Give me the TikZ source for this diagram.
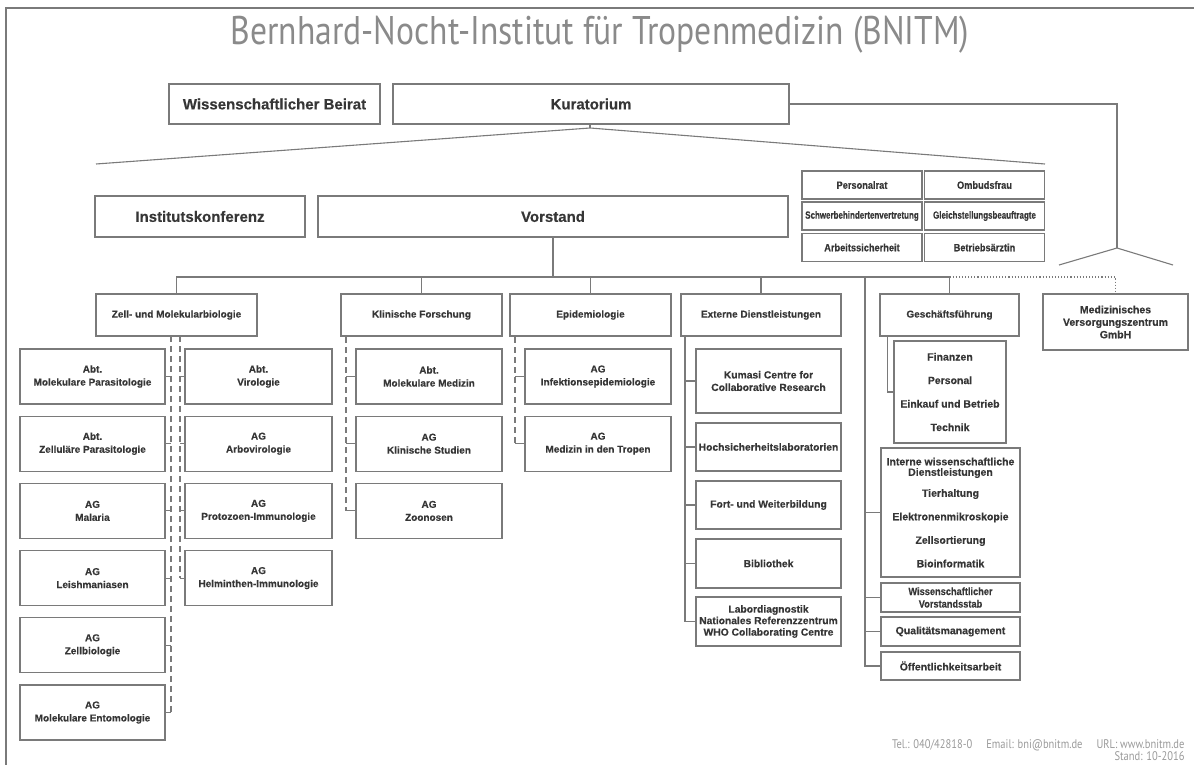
\documentclass[tikz,border=0pt]{standalone}
\usepackage{fontspec}
\setmainfont{Liberation Sans}[BoldFeatures={FakeBold=0.3}]
\newfontfamily\condfont[FakeStretch=0.88, BoldFeatures={FakeBold=0.3}]{Liberation Sans}
\newfontfamily\narrowfont[FakeStretch=0.76, BoldFeatures={FakeBold=0.3}]{Liberation Sans}
\newfontfamily\titlefont[FakeStretch=0.84]{PT Sans}
\usepackage{xcolor}
\usepackage{tikz}

\definecolor{linegray}{HTML}{7A7A7A}
\definecolor{textgray}{HTML}{363636}
\definecolor{titlegray}{HTML}{8A8A8A}
\definecolor{footgray}{HTML}{9A9A9A}

\tikzset{
  box/.style={draw=linegray, line width=1.1pt, fill=white, text=textgray, align=center, inner sep=1pt,
    font=\bfseries\fontsize{10}{13}\selectfont},
  bigbox/.style={box, minimum height=41pt, font=\bfseries\fontsize{15}{17}\selectfont},
  secbox/.style={box, minimum width=161pt, minimum height=42pt, font=\bfseries\fontsize{10}{13}\selectfont},
  cell/.style={box, minimum width=120pt, minimum height=28pt, font=\condfont\bfseries\fontsize{10.5}{12}\selectfont},
  longcell/.style={cell, font=\narrowfont\bfseries\fontsize{10.5}{12}\selectfont},
  unitbox/.style={box, minimum width=146pt, minimum height=55pt},
  extbox/.style={box, minimum width=145pt, font=\bfseries\fontsize{10.3}{12.5}\selectfont},
  gfbox/.style={box, minimum width=139pt, font=\bfseries\fontsize{10.5}{12.5}\selectfont},
  conn/.style={draw=linegray, line width=1.1pt},
  dashline/.style={conn, dash pattern=on 6pt off 4pt},
}

\begin{document}
\begin{tikzpicture}[x=1pt, y=-1pt]
\useasboundingbox (0,0) rectangle (1194,765);
\draw[conn] (6,765) -- (6,8) -- (1194,8);

\node[anchor=base, text=titlegray, font=\titlefont\fontsize{40}{48}\selectfont] (title) at (600,44.5)
  {Bernhard-Nocht-Institut für Tropenmedizin (BNITM)};

% Kuratorium und Vorstand
\node[bigbox, minimum width=211pt, minimum height=40pt] (beirat) at (274.5,104) {Wissenschaftlicher Beirat};
\node[bigbox, minimum width=396pt, minimum height=40pt] (kurat) at (591,104) {Kuratorium};
\node[bigbox, minimum width=210pt] (ikonf) at (200,216.5) {Institutskonferenz};
\node[bigbox, minimum width=470pt] (vorst) at (553,216.5) {Vorstand};

\coordinate (kapex) at (590,128);
\coordinate (kleft) at (96,164);
\coordinate (kright) at (1045,164);
\draw[conn] (kurat.south -| kapex) -- (kapex);
\draw[conn] (kleft) -- (kapex) -- (kright);

\coordinate (mapex) at (1117,248);
\coordinate (mleft) at (1059,265);
\coordinate (mright) at (1173,265);
\draw[conn] (kurat.east) -| (mapex);
\draw[conn] (mleft) -- (mapex) -- (mright);

% Gremien
\node[cell] (prat) at (862,185) {Personalrat};
\node[cell] (ombud) at (984.5,185) {Ombudsfrau};
\node[longcell] (sbv) at (862,216) {Schwerbehindertenvertretung};
\node[longcell] (gleich) at (984.5,216) {Gleichstellungsbeauftragte};
\node[cell] (asich) at (862,247.5) {Arbeitssicherheit};
\node[cell] (barzt) at (984.5,247.5) {Betriebsärztin};

% Bereiche
\node[secbox] (zmb) at (176.5,315) {Zell- und Molekularbiologie};
\node[secbox] (kf) at (421.5,315) {Klinische Forschung};
\node[secbox] (epi) at (590.5,315) {Epidemiologie};
\node[secbox, minimum width=160pt] (ext) at (761,315) {Externe Dienstleistungen};
\node[secbox, minimum width=139pt] (gf) at (949.5,315) {Geschäftsführung};
\node[secbox, minimum width=145pt, minimum height=56pt, font=\bfseries\fontsize{10.5}{12.5}\selectfont] (mvz) at (1115.5,322)
  {Medizinisches\\Versorgungszentrum\\GmbH};

\coordinate (bus) at (553,277);
\draw[conn] (vorst.south) -- (bus);
\draw[conn] (zmb.north) |- (bus) -| (gf.north);
\draw[conn] (kf.north) -- (kf.north |- bus);
\draw[conn] (epi.north) -- (epi.north |- bus);
\draw[conn] (ext.north) -- (ext.north |- bus);
\draw[conn, dotted, line width=1.3pt] (gf.north |- bus) -| (mvz.north);

% Zell- und Molekularbiologie
\node[unitbox, minimum width=145pt] (mpara) at (92.5,376.5) {Abt.\\Molekulare Parasitologie};
\node[unitbox, minimum width=145pt] (zpara) at (92.5,443.7) {Abt.\\Zelluläre Parasitologie};
\node[unitbox, minimum width=145pt] (mal) at (92.5,510.9) {AG\\Malaria};
\node[unitbox, minimum width=145pt] (leish) at (92.5,578.1) {AG\\Leishmaniasen};
\node[unitbox, minimum width=145pt] (zbio) at (92.5,645.3) {AG\\Zellbiologie};
\node[unitbox, minimum width=145pt] (ento) at (92.5,712.5) {AG\\Molekulare Entomologie};
\node[unitbox, minimum width=147pt] (viro) at (258.5,376.5) {Abt.\\Virologie};
\node[unitbox, minimum width=147pt] (arbo) at (258.5,443.7) {AG\\Arbovirologie};
\node[unitbox, minimum width=147pt] (proto) at (258.5,510.9) {AG\\Protozoen-Immunologie};
\node[unitbox, minimum width=147pt] (helm) at (258.5,578.1) {AG\\Helminthen-Immunologie};

\coordinate (zmbL) at (171,336);
\coordinate (zmbR) at (180,336);
\draw[dashline] (zmbL) -- (zmbL |- ento.east);
\draw[dashline] (zmbR) -- (zmbR |- helm.west);
\foreach \n in {mpara,zpara,mal,leish,zbio,ento}
  \draw[conn] (zmbL |- \n.east) -- (\n.east);
\foreach \n in {viro,arbo,proto,helm}
  \draw[conn] (zmbR |- \n.west) -- (\n.west);

% Klinische Forschung
\node[unitbox] (molmed) at (429,376.5) {Abt.\\Molekulare Medizin};
\node[unitbox] (kstud) at (429,443.7) {AG\\Klinische Studien};
\node[unitbox] (zoon) at (429,510.9) {AG\\Zoonosen};
\coordinate (kfL) at (346,337);
\draw[dashline] (kfL) -- (kfL |- zoon.west);
\foreach \n in {molmed,kstud,zoon}
  \draw[conn] (kfL |- \n.west) -- (\n.west);

% Epidemiologie
\node[unitbox] (infepi) at (598,376.5) {AG\\Infektionsepidemiologie};
\node[unitbox] (tropen) at (598,443.7) {AG\\Medizin in den Tropen};
\coordinate (epiL) at (515,337);
\draw[dashline] (epiL) -- (epiL |- tropen.west);
\foreach \n in {infepi,tropen}
  \draw[conn] (epiL |- \n.west) -- (\n.west);

% Externe Dienstleistungen
\node[extbox, minimum height=64pt] (kumasi) at (768.5,381) {Kumasi Centre for\\Collaborative Research};
\node[extbox, minimum height=48pt] (hsl) at (768.5,447) {Hochsicherheitslaboratorien};
\node[extbox, minimum height=48pt] (fort) at (768.5,505) {Fort- und Weiterbildung};
\node[extbox, minimum height=49pt] (bib) at (768.5,563.5) {Bibliothek};
\node[extbox, minimum height=49pt, font=\bfseries\fontsize{10.3}{11.5}\selectfont] (labor) at (768.5,621.5)
  {Labordiagnostik\\Nationales Referenzzentrum\\WHO Collaborating Centre};
\coordinate (extL) at (685,337);
\draw[conn] (extL) -- (extL |- labor.west);
\foreach \n in {kumasi,hsl,fort,bib,labor}
  \draw[conn] (extL |- \n.west) -- (\n.west);

% Geschaeftsfuehrung
\node[gfbox, minimum width=112pt, minimum height=102pt, font=\bfseries\fontsize{10.5}{12}\selectfont] (fin) at (950,392)
  {Finanzen\\[11.5pt]Personal\\[11.5pt]Einkauf und Betrieb\\[11.5pt]Technik};
\draw[conn] ([xshift=8pt]gf.south west) |- (fin.west);

\node[gfbox, minimum height=129pt, font=\bfseries\fontsize{10.5}{10.5}\selectfont] (intern) at (950.5,512.5)
  {Interne wissenschaftliche\\Dienstleistungen\\[10.5pt]Tierhaltung\\[13pt]Elektronenmikroskopie\\[13pt]Zellsortierung\\[13pt]Bioinformatik};
\node[gfbox, minimum height=29pt, font=\condfont\bfseries\fontsize{10.5}{12.5}\selectfont] (vstab) at (950.5,597.5)
  {Wissenschaftlicher\\Vorstandsstab};
\node[gfbox, minimum height=29pt] (qm) at (950.5,631.5) {Qualitätsmanagement};
\node[gfbox, minimum height=28pt] (oeff) at (950.5,666) {Öffentlichkeitsarbeit};
\coordinate (stab) at (865,277);
\draw[conn] (stab) |- (oeff.west);
\foreach \n in {intern,vstab,qm}
  \draw[conn] (stab |- \n.west) -- (\n.west);

% Fusszeile
\node[anchor=base east, text=footgray, font=\titlefont\fontsize{12.5}{12}\selectfont] (contact) at (1188,748)
  {Tel.: 040/42818-0\hspace{14pt}Email: bni@bnitm.de\hspace{14pt}URL: www.bnitm.de};
\node[anchor=base east, text=footgray, font=\titlefont\fontsize{12.5}{12}\selectfont] (stand) at (1188,760)
  {Stand: 10-2016};
\end{tikzpicture}
\end{document}
